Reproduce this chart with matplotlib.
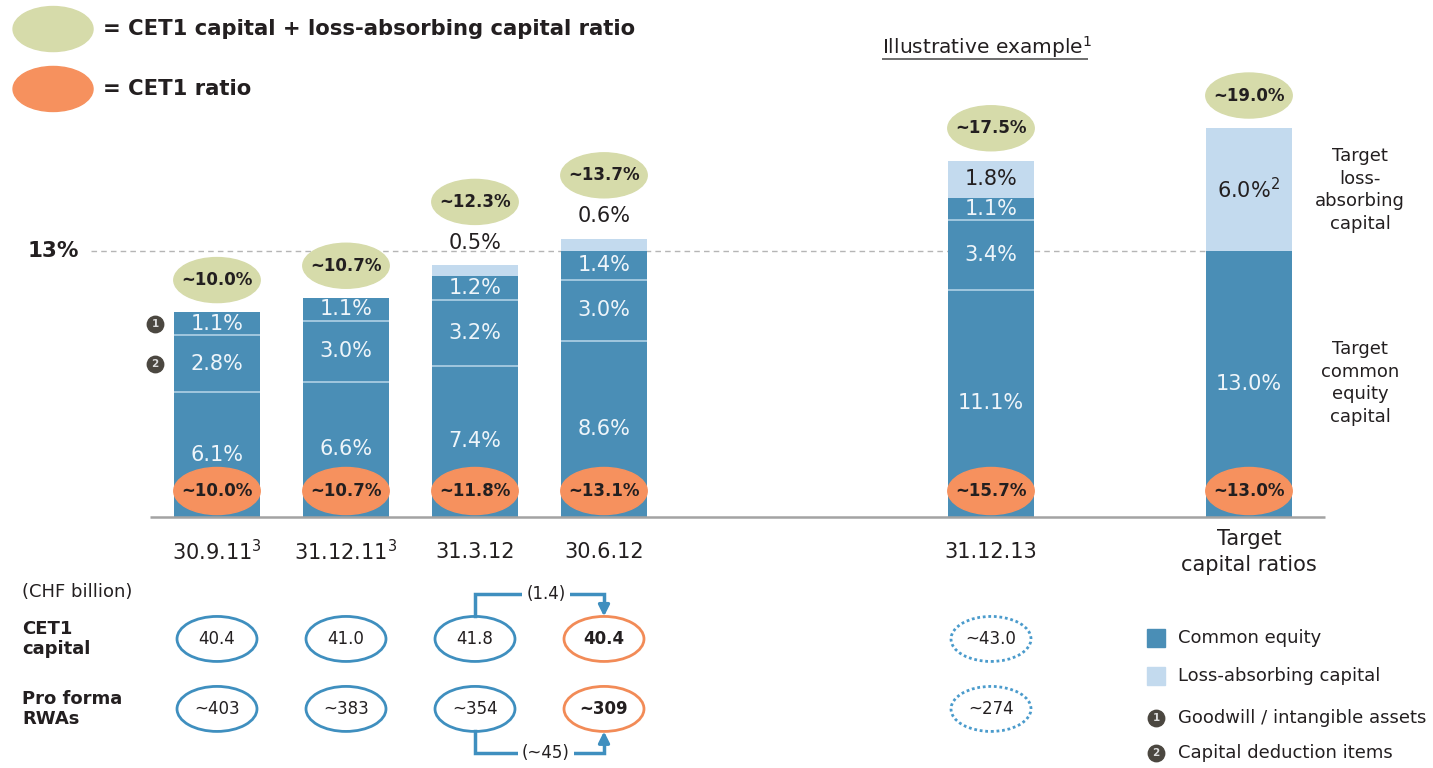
import matplotlib
matplotlib.use("Agg")
import matplotlib.pyplot as plt
from matplotlib.patches import Ellipse, Rectangle

plt.rcParams["font.family"] = ["DejaVu Sans"]

# data
categories = ["30.9.11", "31.12.11", "31.3.12", "30.6.12", "31.12.13", "Target\ncapital ratios"]
cat_sup = ["3", "3", "", "", "", ""]
positions = [0, 1, 2, 3, 6, 8]
common_equity = [6.1, 6.6, 7.4, 8.6, 11.1, 13.0]
deduction_items = [2.8, 3.0, 3.2, 3.0, 3.4, 0]
goodwill = [1.1, 1.1, 1.2, 1.4, 1.1, 0]
loss_absorbing = [0, 0, 0.5, 0.6, 1.8, 6.0]
loss_sup = ["", "", "", "", "", "2"]
cet1_ratio = ["~10.0%", "~10.7%", "~11.8%", "~13.1%", "~15.7%", "~13.0%"]
total_ratio = ["~10.0%", "~10.7%", "~12.3%", "~13.7%", "~17.5%", "~19.0%"]
cet1_capital = ["40.4", "41.0", "41.8", "40.4", "~43.0"]
rwas = ["~403", "~383", "~354", "~309", "~274"]
row_style = ["past", "past", "past", "now", "future"]

DARK = "#4a8eb6"
LIGHT = "#c3daee"
GREEN = "#d6dbaa"
ORANGE = "#f6915e"
LINE_BLUE = "#3f8fbf"
TXT = "#231f20"
MARK = "#4b4740"

fig = plt.figure(figsize=(14.33, 7.68), dpi=100)
ax = fig.add_axes([0, 0, 1, 1])
ax.set_xlim(-217 / 129, (1433 - 217) / 129)
ax.set_ylim(-(768 - 517) / 20.46, 517 / 20.46)
ax.axis("off")

w = 0.66
# 13% reference line
ax.hlines(13, -0.98, 7.66, colors="#b5b5b5", linestyles=(0, (4, 3)), lw=1, zorder=1)
ax.text(-1.465, 13, "13%", ha="left", va="center", fontsize=15.5, fontweight="bold", color=TXT)

for i, x in enumerate(positions):
    segs = [v for v in [common_equity[i], deduction_items[i], goodwill[i]] if v > 0]
    bottom = 0
    for k, s in enumerate(segs):
        ax.bar(x, s, width=w, bottom=bottom, color=DARK, zorder=2)
        ax.text(x, bottom + s / 2, f"{s:.1f}%", ha="center", va="center", fontsize=15,
                color="#eef5fa", zorder=4)
        if k > 0:
            ax.hlines(bottom, x - w / 2, x + w / 2, colors="#a8cbe2", lw=1.3, zorder=3)
        bottom += s
    dark_top = bottom
    top = dark_top
    la = loss_absorbing[i]
    if la > 0:
        ax.bar(x, la, width=w, bottom=dark_top, color=LIGHT, zorder=2)
        top = dark_top + la
        lbl = f"{la:.1f}%"
        if loss_sup[i]:
            lbl += r"$^{\mathregular{" + loss_sup[i] + "}}$"
        if la >= 1:
            ax.text(x, dark_top + la / 2, lbl, ha="center", va="center", fontsize=15,
                    color=TXT, zorder=4)
            gy = top + 1.6
        else:
            ax.text(x, top + 1.1, lbl, ha="center", va="center", fontsize=15,
                    color=TXT, zorder=4)
            gy = top + 3.1
    else:
        gy = top + 1.58
    # total ratio bubble
    ax.add_patch(Ellipse((x, gy), 0.67, 2.2, color=GREEN, zorder=4))
    ax.text(x, gy, total_ratio[i], ha="center", va="center", fontsize=12,
            fontweight="bold", color=TXT, zorder=5)
    # CET1 ratio bubble
    ax.add_patch(Ellipse((x, 1.27), 0.67, 2.3, color=ORANGE, zorder=4))
    ax.text(x, 1.27, cet1_ratio[i], ha="center", va="center", fontsize=12,
            fontweight="bold", color=TXT, zorder=5)
    # category label
    lab = categories[i]
    if cat_sup[i]:
        lab += r"$^{\mathregular{" + cat_sup[i] + "}}$"
    ax.text(x, -1.71, lab, ha="center", va="center", fontsize=15, color=TXT,
            linespacing=1.4)

# baseline
ax.hlines(0, -0.52, 8.59, colors="#a3a3a3", lw=1.8, zorder=3)

# numbered markers for bar 1
for m, n in zip([common_equity[0] + deduction_items[0] + goodwill[0] / 2,
                 common_equity[0] + deduction_items[0] / 2], ["1", "2"]):
    ax.scatter(-0.48, m, s=140, color=MARK, zorder=5)
    ax.text(-0.48, m, n, ha="center", va="center", fontsize=7.5, fontweight="bold",
            color="#dddddd", zorder=6)

# right side descriptions
ax.text(8.86, 15.98, "Target\nloss-\nabsorbing\ncapital", ha="center", va="center",
        fontsize=13, color=TXT, linespacing=1.35)
ax.text(8.86, 6.55, "Target\ncommon\nequity\ncapital", ha="center", va="center",
        fontsize=13, color=TXT, linespacing=1.35)

# top legend
ax.add_patch(Ellipse((-1.271, 23.85), 0.62, 2.2, color=GREEN))
ax.text(-0.884, 23.85, "= CET1 capital + loss-absorbing capital ratio", ha="left",
        va="center", fontsize=15.2, fontweight="bold", color=TXT)
ax.add_patch(Ellipse((-1.271, 20.92), 0.62, 2.2, color=ORANGE))
ax.text(-0.884, 20.92, "= CET1 ratio", ha="left", va="center", fontsize=15.2,
        fontweight="bold", color=TXT)

# illustrative example header
ax.text(5.155, 22.95, r"Illustrative example$^{\mathregular{1}}$", ha="left", va="center",
        fontsize=14.5, color=TXT)
ax.hlines(22.4, 5.155, 6.75, colors="#555555", lw=1.2)

# bottom table
row_cet1, row_rwa = -5.96, -9.38
ax.text(-1.51, -3.66, "(CHF billion)", ha="left", va="center", fontsize=13, color=TXT)
ax.text(-1.51, row_cet1, "CET1\ncapital", ha="left", va="center", fontsize=13,
        fontweight="bold", color=TXT, linespacing=1.15)
ax.text(-1.51, row_rwa, "Pro forma\nRWAs", ha="left", va="center", fontsize=13,
        fontweight="bold", color=TXT, linespacing=1.15)

eh = 2.2
for row_y, vals in [(row_cet1, cet1_capital), (row_rwa, rwas)]:
    for x, v, st in zip(positions, vals, row_style):
        if st == "past":
            ec, ls, fw = LINE_BLUE, "-", "normal"
        elif st == "now":
            ec, ls, fw = "#f28b57", "-", "bold"
        else:
            ec, ls, fw = "#4a9bcc", (0, (1, 1)), "normal"
        ax.add_patch(Ellipse((x, row_y), 0.62, eh, fill=False, edgecolor=ec,
                             lw=2, linestyle=ls))
        ax.text(x, row_y, v, ha="center", va="center", fontsize=12,
                fontweight=fw, color=TXT)

# change arrows between 31.3.12 and 30.6.12
for y0, y1, lbl in [(row_cet1 + eh / 2, -3.76, "(1.4)"), (row_rwa - eh / 2, -11.53, "(~45)")]:
    ax.plot([2, 2, 3, 3], [y0, y1, y1, (y1 + y0) / 2], color=LINE_BLUE, lw=2.5,
            solid_joinstyle="miter")
    ax.annotate("", xy=(3, y0), xytext=(3, (y1 + y0) / 2),
                arrowprops=dict(arrowstyle="-|>", color=LINE_BLUE, lw=2.5,
                                mutation_scale=16, shrinkA=0, shrinkB=0))
    ax.text(2.55, y1, lbl, ha="center", va="center", fontsize=12, color=TXT,
            bbox=dict(facecolor="white", edgecolor="none", pad=3))

# bottom right legend
ax.add_patch(Rectangle((7.28 - 0.07, -5.91 - 0.44), 0.14, 0.88, color=DARK))
ax.text(7.45, -5.91, "Common equity", ha="left", va="center", fontsize=13, color=TXT)
ax.add_patch(Rectangle((7.28 - 0.07, -7.77 - 0.44), 0.14, 0.88, color=LIGHT))
ax.text(7.45, -7.77, "Loss-absorbing capital", ha="left", va="center", fontsize=13,
        color=TXT)
for yy, n, t in [(-9.82, "1", "Goodwill / intangible assets"),
                 (-11.53, "2", "Capital deduction items")]:
    ax.scatter(7.28, yy, s=140, color=MARK, zorder=5)
    ax.text(7.28, yy, n, ha="center", va="center", fontsize=7.5, fontweight="bold",
            color="#dddddd", zorder=6)
    ax.text(7.45, yy, t, ha="left", va="center", fontsize=13, color=TXT)

fig.savefig("out.png", dpi=100)
